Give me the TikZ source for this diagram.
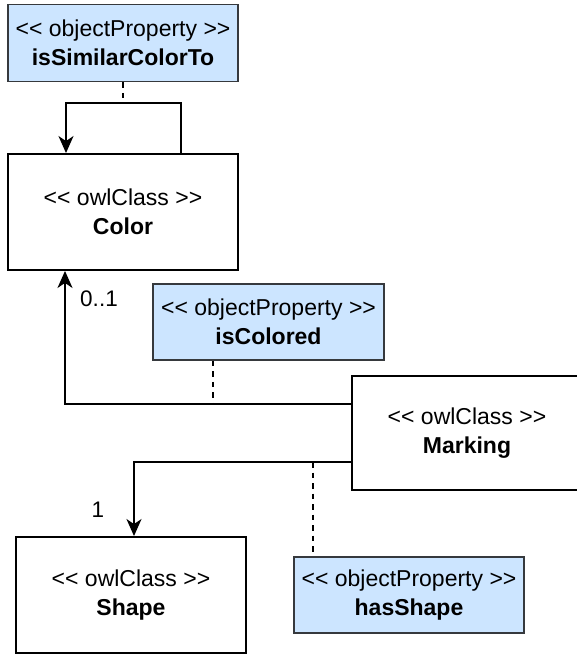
\documentclass[tikz,border=0pt]{standalone}
\usepackage{fontspec}
\setmainfont{Liberation Sans}
\usetikzlibrary{arrows.meta}
\definecolor{propfill}{HTML}{CCE5FF}
\definecolor{propdraw}{HTML}{36393D}
\begin{document}
\begin{tikzpicture}[x=1pt,y=-1pt,
  box/.style={draw=black, line width=1.9pt, minimum width=230pt, minimum height=116pt,
    inner sep=0pt, align=center, font=\fontsize{23}{29}\selectfont},
  prop/.style={box, fill=propfill, draw=propdraw, minimum height=77pt},
  link/.style={line width=1.9pt},
  dashlink/.style={line width=1.9pt, dash pattern=on 5.5pt off 5pt},
  arr/.style={link, -{Stealth[length=17pt,width=15pt,inset=5pt]}},
  lbl/.style={inner sep=0pt, font=\fontsize{22.5}{28}\selectfont}]
\useasboundingbox (0,0) rectangle (577,654);
\clip (0,0) rectangle (577,654);
\fill[white] (0,0) rectangle (577,654);

\node[prop] (sim) at (123,43) {<{}< objectProperty >{}>\\\textbf{isSimilarColorTo}};
\node[box] (color) at (123,212) {<{}< owlClass >{}>\\\textbf{Color}};
\node[prop, minimum width=231pt, minimum height=76pt] (iscol) at (268.5,322) {<{}< objectProperty >{}>\\\textbf{isColored}};
\node[box, minimum height=114pt] (mark) at (467,433) {<{}< owlClass >{}>\\\textbf{Marking}};
\node[box] (shape) at (131,595) {<{}< owlClass >{}>\\\textbf{Shape}};
\node[prop, minimum height=76pt] (hasshape) at (409,595) {<{}< objectProperty >{}>\\\textbf{hasShape}};

% self loop on Color
\coordinate (l1) at (181,103);
\coordinate (l2) at (66,103);
\draw[arr] (color.north -| l1) -- (l1) -- (l2) -- (color.north -| l2);
\draw[dashlink] (sim.south) -- (sim.south |- l1);

% Marking -> Color
\coordinate (c1) at (65,404);
\draw[arr] (mark.west |- c1) -- (c1) -- (color.south -| c1);
\node[lbl] (n01) at (99,299) {0..1};
\coordinate (d1) at (213,404);
\draw[dashlink] (iscol.south -| d1) -- (d1);

% Marking -> Shape
\coordinate (c2) at (134,462);
\draw[arr] (mark.west |- c2) -- (c2) -- (shape.north -| c2);
\node[lbl] (n1) at (98,510) {1};
\coordinate (d2) at (313,462);
\draw[dashlink] (d2) -- (hasshape.north -| d2);
\end{tikzpicture}
\end{document}
